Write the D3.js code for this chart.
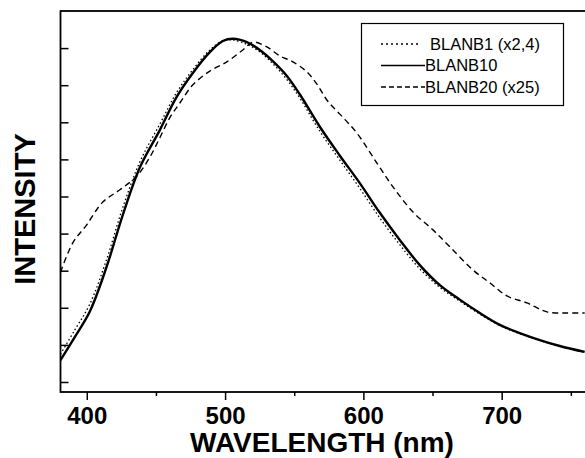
<!DOCTYPE html>
<html>
<head>
<meta charset="utf-8">
<script src="https://cdn.jsdelivr.net/npm/d3@7"></script>
<style>
  html, body { margin: 0; padding: 0; background: #fff; }
  svg { display: block; font-family: "Liberation Sans", Arial, sans-serif; }
</style>
</head>
<body>
<div id="chart"></div>
<script>
// wavelengths (nm) sampled along the curves
const waveSolid = [381, 391.3, 402.2, 414.3, 426, 438.6, 452.8, 464.9, 476.7, 489, 498.4, 505.6, 515.8, 525.1, 534.5, 544.7, 554.1, 568.5, 583, 597.4, 611.9, 626.3, 640.8, 655.3, 669.7, 684.2, 698.7, 713.1, 727.6, 742, 760];
// BLANB10
const blanb10 = [0.59, 1.21, 1.90, 3.10, 4.50, 5.80, 6.79, 7.68, 8.33, 8.89, 9.19, 9.25, 9.16, 8.95, 8.65, 8.25, 7.75, 6.88, 6.10, 5.36, 4.56, 3.83, 3.15, 2.61, 2.22, 1.86, 1.54, 1.32, 1.13, 0.97, 0.81];
// BLANB1 (x2,4)
const blanb1 = [0.75, 1.40, 2.10, 3.30, 4.70, 5.95, 6.95, 7.80, 8.42, 8.95, 9.20, 9.22, 9.10, 8.90, 8.58, 8.15, 7.65, 6.76, 5.98, 5.22, 4.42, 3.70, 3.05, 2.55, 2.18, 1.83, 1.52, 1.30, 1.12, 0.96, 0.80];
// BLANB20 (x25)
const waveDash = [381, 389.9, 399.8, 411.6, 423.9, 436.2, 445.6, 452.8, 460, 467.3, 476.7, 489, 501.3, 512.8, 520.1, 530.2, 539.6, 549, 559.1, 566.4, 573.6, 583, 595.3, 609.8, 621.4, 635.9, 650.3, 662.6, 679.2, 691.5, 703.8, 718.3, 732.7, 747.2, 760];
const blanb20 = [2.96, 3.75, 4.23, 4.85, 5.18, 5.55, 6.06, 6.58, 7.12, 7.52, 8.01, 8.38, 8.63, 8.95, 9.16, 9.03, 8.79, 8.63, 8.36, 8.03, 7.60, 7.22, 6.71, 5.90, 5.26, 4.58, 4.10, 3.64, 3.02, 2.67, 2.32, 2.13, 1.89, 1.86, 1.86];

const xTicks = [400, 500, 600, 700];
const xMinor = [450, 550, 650, 750];
const yTicks = [0, 1, 2, 3, 4, 5, 6, 7, 8, 9];

const legendItems = [
  { label: "BLANB1 (x2,4)", dash: "2,3", width: 1.3, x1: 381, x2: 418, tx: 430 },
  { label: "BLANB10", dash: null, width: 1.3, x1: 381, x2: 425, tx: 425 },
  { label: "BLANB20 (x25)", dash: "5,3", width: 1.3, x1: 381, x2: 425, tx: 425 }
];

const W = 585, H = 458;
const mLeft = 60.5, mTop = 11, mBottom = 392, mRight = 600;

const svg = d3.select("#chart").append("svg")
  .attr("width", W)
  .attr("height", H);

const x = d3.scaleLinear().domain([381, 771]).range([mLeft, mLeft + 390 * 1.383]);
const y = d3.scaleLinear().domain([-0.27, 10]).range([mBottom, mTop]);

// frame
svg.append("rect")
  .attr("x", mLeft).attr("y", mTop)
  .attr("width", mRight - mLeft).attr("height", mBottom - mTop)
  .attr("fill", "none").attr("stroke", "#000").attr("stroke-width", 1.8);

// x axis: major ticks outward, labels bold
const xAxis = d3.axisBottom(x).tickValues(xTicks).tickSize(8).tickSizeOuter(0).tickPadding(7);
const gx = svg.append("g").attr("transform", `translate(0,${mBottom})`).call(xAxis);
gx.select(".domain").remove();
gx.selectAll("line").attr("stroke-width", 1.5);
gx.selectAll("text")
  .attr("font-size", 24).attr("font-weight", "bold")
  .attr("font-family", "'Liberation Sans', Arial, sans-serif").attr("fill", "#000");

const gxm = svg.append("g").attr("transform", `translate(0,${mBottom})`)
  .call(d3.axisBottom(x).tickValues(xMinor).tickSize(4).tickFormat(""));
gxm.select(".domain").remove();
gxm.selectAll("line").attr("stroke-width", 1.5);

// y axis: ticks inward, no labels
const gy = svg.append("g").attr("transform", `translate(${mLeft},0)`)
  .call(d3.axisRight(y).tickValues(yTicks).tickSize(8).tickFormat(""));
gy.select(".domain").remove();
gy.selectAll("line").attr("stroke-width", 1.5);

// titles
svg.append("text")
  .attr("x", 322).attr("y", 452)
  .attr("text-anchor", "middle")
  .attr("font-size", 28).attr("font-weight", "bold")
  .text("WAVELENGTH (nm)");

svg.append("text")
  .attr("transform", "translate(35,209) rotate(-90)")
  .attr("text-anchor", "middle")
  .attr("font-size", 29).attr("font-weight", "bold")
  .text("INTENSITY");

// curves
svg.append("clipPath").attr("id", "plotclip")
  .append("rect").attr("x", mLeft).attr("y", mTop).attr("width", mRight - mLeft).attr("height", mBottom - mTop);

const line = d3.line()
  .x(d => x(d[0])).y(d => y(d[1]))
  .curve(d3.curveCatmullRom);

const plot = svg.append("g").attr("clip-path", "url(#plotclip)");

plot.append("path")
  .datum(d3.zip(waveDash, blanb20))
  .attr("d", line)
  .attr("fill", "none").attr("stroke", "#000")
  .attr("stroke-width", 1.4).attr("stroke-dasharray", "6,4");

plot.append("path")
  .datum(d3.zip(waveSolid, blanb1))
  .attr("d", line)
  .attr("fill", "none").attr("stroke", "#000")
  .attr("stroke-width", 1.3).attr("stroke-dasharray", "1.5,2.5");

plot.append("path")
  .datum(d3.zip(waveSolid, blanb10))
  .attr("d", line)
  .attr("fill", "none").attr("stroke", "#000")
  .attr("stroke-width", 2.4);

// legend
svg.append("rect")
  .attr("x", 361.5).attr("y", 23.5).attr("width", 202).attr("height", 82)
  .attr("fill", "#fff").attr("stroke", "#000").attr("stroke-width", 1.2);

const lg = svg.append("g");
legendItems.forEach((d, i) => {
  const ly = 44 + i * 21.5;
  lg.append("line")
    .attr("x1", d.x1).attr("x2", d.x2).attr("y1", ly).attr("y2", ly)
    .attr("stroke", "#000").attr("stroke-width", d.width)
    .attr("stroke-dasharray", d.dash);
  lg.append("text")
    .attr("x", d.tx).attr("y", ly + 5.5)
    .attr("font-size", 16.5)
    .text(d.label);
});
</script>
</body>
</html>
